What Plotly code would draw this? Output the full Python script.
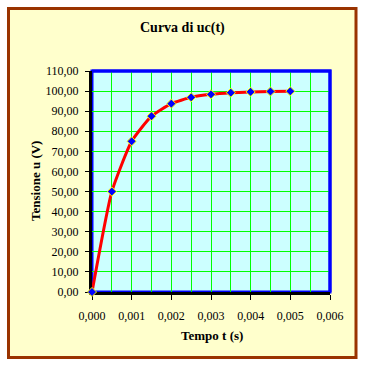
import plotly.graph_objects as go

# Data
tempo = [0.0, 0.0005, 0.001, 0.0015, 0.002, 0.0025, 0.003, 0.0035, 0.004, 0.0045, 0.005]
tensione = [0.0, 50.0, 75.0, 87.5, 93.75, 96.9, 98.4, 99.2, 99.6, 99.8, 99.9]

x_ticks = [0.0, 0.001, 0.002, 0.003, 0.004, 0.005, 0.006]
y_ticks = [0, 10, 20, 30, 40, 50, 60, 70, 80, 90, 100, 110]

W, H = 365, 367
L, R, T, B = 92, 35, 71, 75
PW, PH = W - L - R, H - T - B


def px(x):
    return (x - L) / PW


def py(y):
    return (H - B - y) / PH


serif = "Liberation Serif, Times New Roman, serif"
grid = "#00FF00"

fig = go.Figure()
fig.add_trace(go.Scatter(
    x=tempo, y=tensione, mode="lines+markers",
    line=dict(color="#FF0000", width=3, shape="spline", smoothing=0.5),
    marker=dict(symbol="diamond", size=7, color="#0000FF",
                line=dict(color="#FFFF00", width=1)),
    cliponaxis=False, showlegend=False,
))

fig.update_layout(
    width=W, height=H,
    margin=dict(l=L, r=R, t=T, b=B),
    paper_bgcolor="white", plot_bgcolor="#CCFFFF",
    separators=",.",
    font=dict(family=serif, size=12, color="black"),
    shapes=[
        dict(type="rect", xref="paper", yref="paper",
             x0=px(8.5), x1=px(356), y0=py(357.5), y1=py(8.5),
             fillcolor="#FFFFCC", line=dict(color="#993300", width=3), layer="below"),
        dict(type="rect", xref="paper", yref="paper",
             x0=0, x1=1, y0=0, y1=1, fillcolor="#CCFFFF",
             line=dict(color="#0000FF", width=3), layer="below"),
        dict(type="path", xref="paper", yref="paper",
             path="M 0,1 L 1,1 L 1,0", line=dict(color="#0000FF", width=3), layer="above"),
    ],
    annotations=[
        dict(text="<b>Curva di uc(t)</b>", xref="paper", yref="paper",
             x=px(182), y=py(28), showarrow=False, font=dict(size=14, family=serif),
             xanchor="center", yanchor="middle"),
        dict(text="<b>Tensione u (V)</b>", xref="paper", yref="paper",
             x=px(35), y=py(181), showarrow=False, textangle=-90,
             font=dict(size=13, family=serif), xanchor="center", yanchor="middle"),
        dict(text="<b>Tempo t (s)</b>", xref="paper", yref="paper",
             x=px(212), y=py(335), showarrow=False,
             font=dict(size=13, family=serif), xanchor="center", yanchor="middle"),
    ],
)

fig.update_xaxes(
    range=[0, 0.006], tickvals=x_ticks, tickformat=".3f",
    showgrid=True, gridcolor=grid, gridwidth=1,
    minor=dict(dtick=0.0005, showgrid=True, gridcolor=grid, gridwidth=1, ticks=""),
    showline=True, linecolor="black", linewidth=3,
    ticks="outside", ticklen=5, tickcolor="black", tickwidth=1,
    ticklabelstandoff=6, zeroline=False, layer="below traces", fixedrange=True,
)
fig.update_yaxes(
    range=[0, 110], tickvals=y_ticks, tickformat=".2f",
    showgrid=True, gridcolor=grid, gridwidth=1,
    showline=True, linecolor="black", linewidth=3,
    ticks="outside", ticklen=4, tickcolor="black", tickwidth=1,
    ticklabelstandoff=4, zeroline=False, layer="below traces", fixedrange=True,
)

fig.write_html(
    "out.html",
    config={"displayModeBar": False},
    post_script="document.body.style.margin='0';document.body.style.overflow='hidden';",
)
